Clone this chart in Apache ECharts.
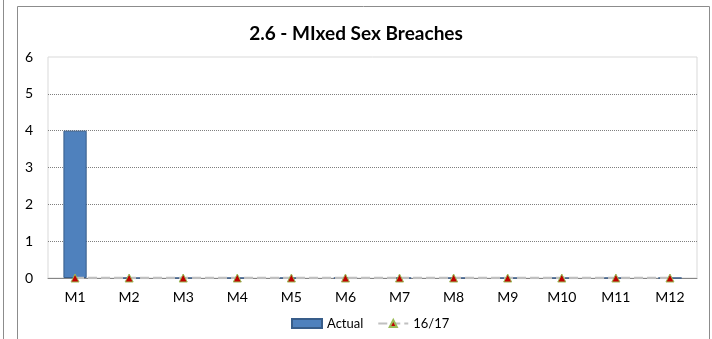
<!DOCTYPE html>
<html>
<head>
<meta charset="utf-8">
<script src="https://cdn.jsdelivr.net/npm/echarts@6/dist/echarts.min.js"></script>
<style>
html,body{margin:0;padding:0;background:#fff;}
#c{width:712px;height:339px;}
</style>
</head>
<body>
<div id="c"></div>
<script>
var categories = ['M1','M2','M3','M4','M5','M6','M7','M8','M9','M10','M11','M12'];
var actualValues = [4,0,0,0,0,0,0,0,0,0,0,0];
var targetValues = [0,0,0,0,0,0,0,0,0,0,0,0];
var yTicks = [0,1,2,3,4,5,6];
var titleText = '2.6 - MIxed Sex Breaches';
var seriesNames = ['Actual','16/17'];

var FONT = 'Lato, "Open Sans", sans-serif';
var chart = echarts.init(document.getElementById('c'), null, {renderer:'canvas'});
chart.setOption({
  animation:false,
  backgroundColor:'#fff',
  title:{text:titleText,left:'center',top:19,
    textStyle:{fontFamily:FONT,fontSize:19,fontWeight:'bold',color:'#000'}},
  graphic:[
    {type:'line',shape:{x1:3.5,y1:0,x2:3.5,y2:339},style:{stroke:'#8c8c8c',lineWidth:1},silent:true},
    {type:'polyline',shape:{points:[[17.5,339],[17.5,6.5],[709.5,6.5],[709.5,339]]},style:{stroke:'#8c8c8c',lineWidth:1,fill:null},silent:true}
  ],
  legend:{bottom:4,left:286,itemGap:14,itemWidth:30,itemHeight:9,
    textStyle:{fontFamily:FONT,fontSize:13,color:'#000'},
    data:[{name:seriesNames[0],icon:'rect'},{name:seriesNames[1]}]},
  grid:{left:48,right:15,top:57,bottom:61,show:true,borderColor:'#d9d9d9',borderWidth:1},
  xAxis:{type:'category',data:categories,
    axisLine:{lineStyle:{color:'#868686',width:1}},
    axisTick:{show:false},
    axisLabel:{fontFamily:FONT,fontSize:14,color:'#000',margin:12}},
  yAxis:{type:'value',min:yTicks[0],max:yTicks[yTicks.length-1],interval:1,
    axisLine:{show:false},axisTick:{show:false},
    axisLabel:{fontFamily:FONT,fontSize:14,color:'#000',margin:15},
    splitLine:{showMaxLine:false,lineStyle:{color:'#7f7f7f',type:[1,1],width:1}}},
  series:[
    {name:seriesNames[0],type:'bar',data:actualValues,barWidth:'43%',
      itemStyle:{color:'#4F81BD',borderColor:'#385D8A',borderWidth:1}},
    {name:seriesNames[1],type:'line',data:targetValues,
      symbol:'triangle',symbolSize:8,
      lineStyle:{color:'#c0c0c0',width:2.5,type:[9,4]},
      itemStyle:{color:'#C00000',borderColor:'#9BBB59',borderWidth:1}}
  ]
});
</script>
</body>
</html>
